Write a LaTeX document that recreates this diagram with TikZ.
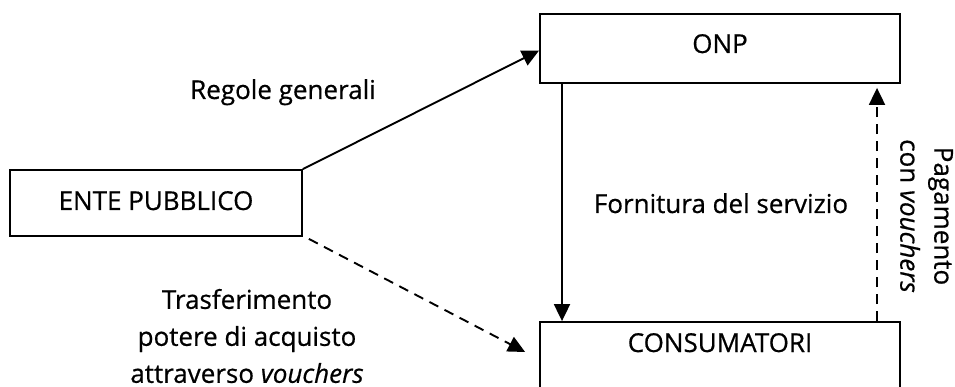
\documentclass[tikz,border=0pt]{standalone}
\usepackage{fontspec}
\setmainfont{Open Sans}[FakeBold=0.6]
\usetikzlibrary{arrows.meta}
\begin{document}
\begin{tikzpicture}[x=1pt,y=-1pt,
  box/.style={draw, line width=1.8pt, inner sep=0pt, font=\fontsize{26}{37}\selectfont},
  lbl/.style={font=\fontsize{26}{37}\selectfont, inner sep=0pt},
  conn/.style={line width=1.9pt, -{Triangle[length=17pt,width=16pt]}},
  dashconn/.style={conn, dash pattern=on 10pt off 7pt}]
\useasboundingbox (0,0) rectangle (955,387);

% the three actors
\node[box, minimum width=292pt, minimum height=66pt, text height=18pt, text depth=4pt]
  (ente) at (156,203) {ENTE PUBBLICO};
\node[box, minimum width=360pt, minimum height=69pt, text height=18pt, text depth=9pt]
  (onp) at (720,48.5) {ONP};
\node[box, minimum width=360pt, minimum height=68pt, text height=10pt, text depth=18pt]
  (cons) at (720,356) {CONSUMATORI};

% flows between them
\draw[conn] (ente.north east) -- ([shift={(0,2)}]onp.west);
\draw[dashconn] ([shift={(6,2)}]ente.south east) -- ([shift={(-14,-4)}]cons.west);
\draw[conn] ([xshift=-158pt]onp.south) -- ([xshift=-158pt]cons.north);
\draw[dashconn] ([xshift=157pt]cons.north) -- ([xshift=157pt, shift={(0,4)}]onp.south);

% labels of the flows
\node[lbl, anchor=base] (regole) at (283,99) {Regole generali};
\node[lbl, align=center] (trasf) at (247,336)
  {Trasferimento\\potere di acquisto\\attraverso \textit{vouchers}};
\node[lbl, anchor=base] (fornit) at (721,213) {Fornitura del servizio};
\node[lbl, align=center, rotate=-90, font=\fontsize{26}{34}\selectfont] (pagam) at (926.5,216)
  {Pagamento\\con \textit{vouchers}};
\end{tikzpicture}
\end{document}
